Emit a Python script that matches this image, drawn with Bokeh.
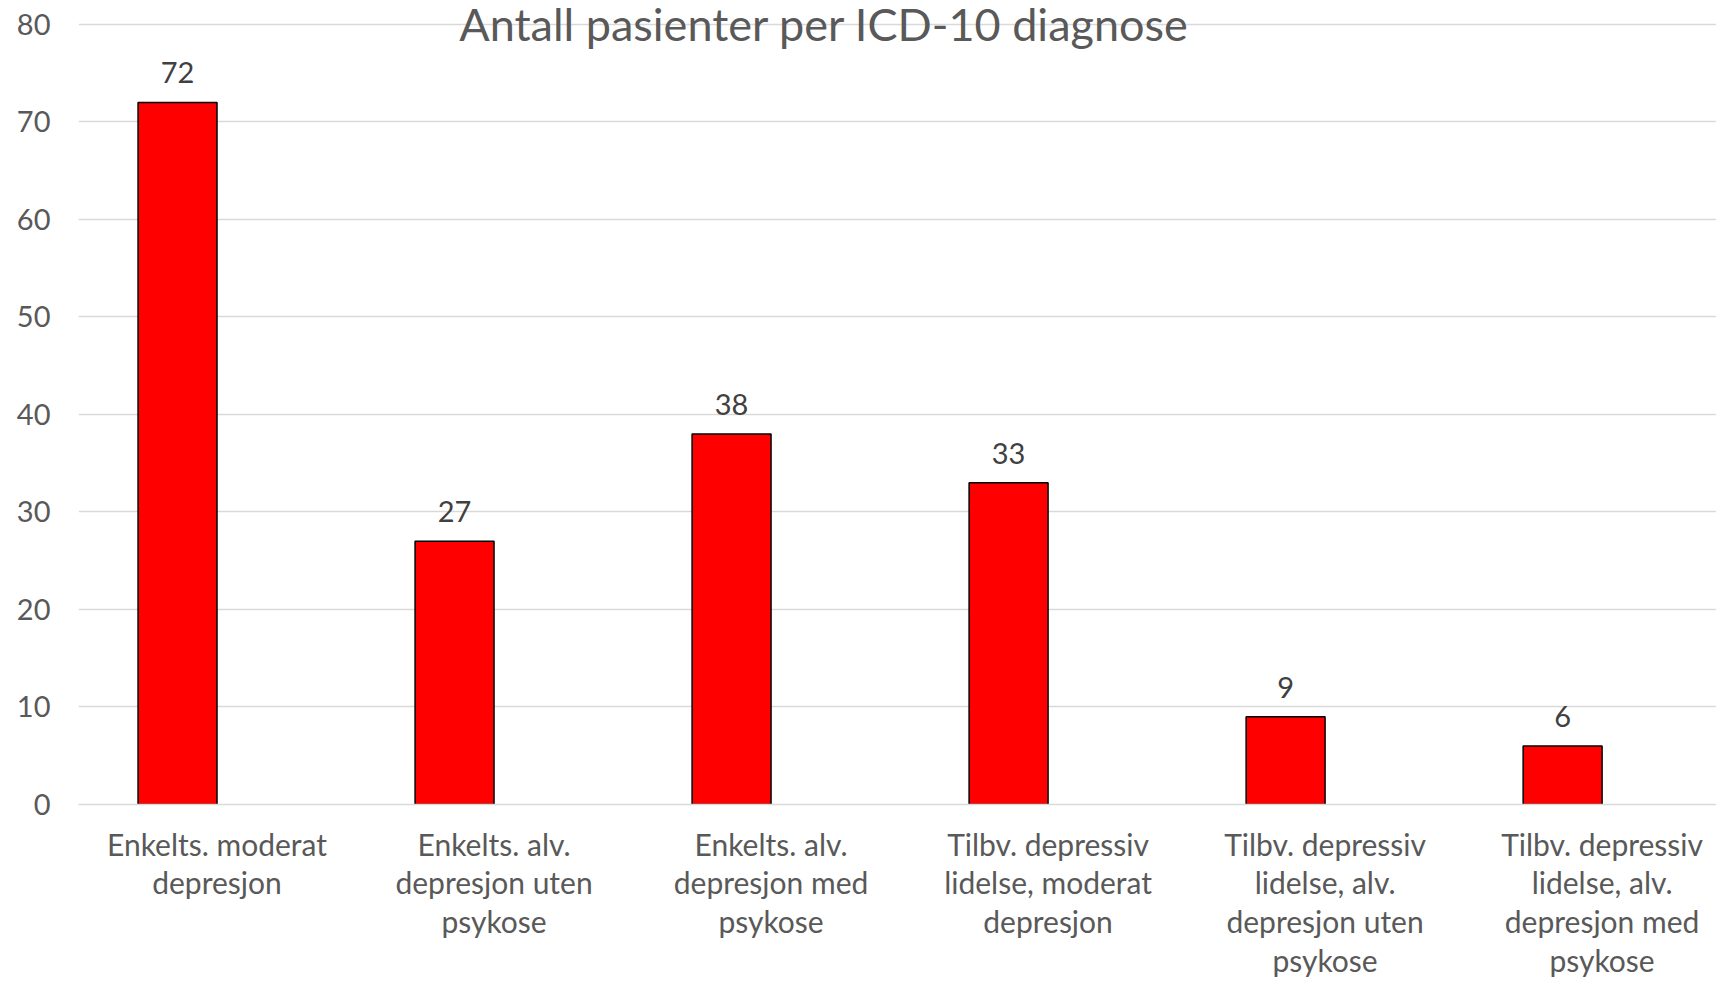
from bokeh.plotting import figure
from bokeh.models import ColumnDataSource, FixedTicker, LabelSet, Label, Range1d
from bokeh.core.properties import value
from bokeh.embed import file_html
from bokeh.resources import INLINE

categories = [
    "Enkelts. moderat\ndepresjon",
    "Enkelts. alv.\ndepresjon uten\npsykose",
    "Enkelts. alv.\ndepresjon med\npsykose",
    "Tilbv. depressiv\nlidelse, moderat\ndepresjon",
    "Tilbv. depressiv\nlidelse, alv.\ndepresjon uten\npsykose",
    "Tilbv. depressiv\nlidelse, alv.\ndepresjon med\npsykose",
]
values = [72, 27, 38, 33, 9, 6]
y_ticks = [0, 10, 20, 30, 40, 50, 60, 70, 80]
title_text = "Antall pasienter per ICD-10 diagnose"

FONT = "Lato"
GREY = "#595959"
BAR_W = 0.285

centers = [i + 0.5 for i in range(len(categories))]
src = ColumnDataSource(dict(
    x=[c - BAR_W / 2 for c in centers],
    top=values,
    label=[str(v) for v in values],
))

p = figure(width=1716, height=981, output_backend="svg", toolbar_location=None,
           x_range=Range1d(0, 5.913), y_range=Range1d(0, 82.46),
           min_border_left=78, min_border_right=0, min_border_top=0, min_border_bottom=177)
p.outline_line_color = None
p.background_fill_color = "white"
p.border_fill_color = "white"

p.vbar(x="x", top="top", width=BAR_W, bottom=0, source=src,
       fill_color="#FF0000", line_color="black", line_width=1.5)

labels = LabelSet(x="x", y="top", text="label", source=src, text_align="center",
                  text_baseline="alphabetic", y_offset=19, text_font=value(FONT),
                  text_font_size="29px", text_color="#404040")
p.add_layout(labels)

title = Label(x=(len(categories) / 2) - 0.307, y=80.0, text=title_text, text_align="center",
              text_baseline="alphabetic", text_font=FONT, text_font_size="45px", text_color=GREY)
p.add_layout(title)

p.xgrid.grid_line_color = None
p.ygrid.grid_line_color = "#D9D9D9"
p.ygrid.grid_line_width = 1.5

p.yaxis.ticker = FixedTicker(ticks=y_ticks)
p.yaxis.axis_line_color = None
p.yaxis.major_tick_line_color = None
p.yaxis.minor_tick_line_color = None
p.yaxis.major_label_text_font = FONT
p.yaxis.major_label_text_font_size = "29px"
p.yaxis.major_label_text_color = GREY
p.yaxis.major_label_standoff = 22

p.xaxis.ticker = FixedTicker(ticks=centers)
p.xaxis.major_label_overrides = {c: lab for c, lab in zip(centers, categories)}
p.xaxis.axis_line_color = "#D9D9D9"
p.xaxis.axis_line_width = 1.5
p.xaxis.major_tick_line_color = None
p.xaxis.minor_tick_line_color = None
p.xaxis.major_label_text_font = FONT
p.xaxis.major_label_text_font_size = "30px"
p.xaxis.major_label_text_color = GREY
p.xaxis.major_label_text_line_height = 1.08
p.xaxis.major_label_standoff = 15

open("out.html", "w").write(file_html(p, INLINE))
